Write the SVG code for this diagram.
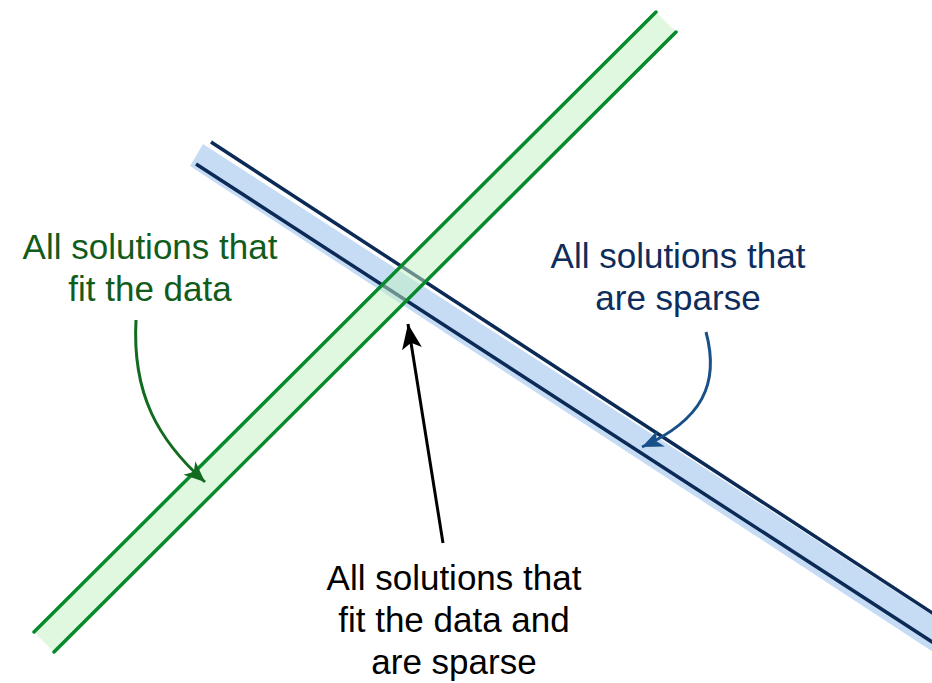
<svg xmlns="http://www.w3.org/2000/svg" width="932" height="683" viewBox="0 0 932 683">
  <style>
    .lbl { font-family: "Liberation Sans", Arial, Helvetica, sans-serif; font-size: 35px; text-anchor: middle; }
    .green-txt { fill: #115b1b; }
    .blue-txt { fill: #0e2d5c; }
    .black-txt { fill: #000000; }
    .blue-edge { stroke: #0c2a56; stroke-width: 3.5; fill: none; }
    .green-edge { stroke: #078a2c; stroke-width: 3.5; fill: none; stroke-linecap: round; }
    .conn { fill: none; }
  </style>
  <defs>
    <marker id="headGreen" markerUnits="userSpaceOnUse" markerWidth="26" markerHeight="22" viewBox="-22 -11 26 22" refX="0" refY="0" orient="auto">
      <path d="M0,0 L-21,-9 L-15,0 L-21,9 Z" fill="#126b1f"/>
    </marker>
    <marker id="headBlue" markerUnits="userSpaceOnUse" markerWidth="26" markerHeight="22" viewBox="-22 -11 26 22" refX="0" refY="0" orient="auto">
      <path d="M0,0 L-21,-9 L-15,0 L-21,9 Z" fill="#1a5089"/>
    </marker>
    <marker id="headBlack" markerUnits="userSpaceOnUse" markerWidth="30" markerHeight="24" viewBox="-26 -12 30 24" refX="0" refY="0" orient="auto">
      <path d="M0,0 L-25,-10 L-19,0 L-25,10 Z" fill="#000000"/>
    </marker>
  </defs>

  <rect x="0" y="0" width="932" height="683" fill="#ffffff"/>

  <!-- sparse band -->
  <g id="sparse-band">
    <polygon points="203,144 960,633 950,663 190,166" fill="#c6dcf5"/>
    <line class="blue-edge" x1="211" y1="142" x2="960" y2="631"/>
    <line class="blue-edge" x1="196" y1="164" x2="960" y2="660"/>
  </g>

  <!-- data-fit band -->
  <g id="data-band">
    <polygon points="656,12 676,32 54,652 34,632" fill="#c1f1c1" fill-opacity="0.5"/>
    <line class="green-edge" x1="656" y1="12" x2="34" y2="632"/>
    <line class="green-edge" x1="676" y1="32" x2="54" y2="652"/>
  </g>

  <!-- labels -->
  <g id="label-data">
    <text class="lbl green-txt" x="150" y="259">All solutions that</text>
    <text class="lbl green-txt" x="150" y="301">fit the data</text>
  </g>
  <g id="label-sparse">
    <text class="lbl blue-txt" x="678" y="268">All solutions that</text>
    <text class="lbl blue-txt" x="678" y="310">are sparse</text>
  </g>
  <g id="label-both">
    <text class="lbl black-txt" x="454" y="590">All solutions that</text>
    <text class="lbl black-txt" x="454" y="632">fit the data and</text>
    <text class="lbl black-txt" x="454" y="674">are sparse</text>
  </g>

  <!-- connectors -->
  <g id="connectors">
    <path class="conn" d="M136,320 C132,394 158,440 205,482" stroke="#126b1f" stroke-width="3" marker-end="url(#headGreen)"/>
    <path class="conn" d="M706,332 C720,384 702,420 642,447" stroke="#1a5089" stroke-width="3" marker-end="url(#headBlue)"/>
    <path class="conn" d="M443,543 L408,324" stroke="#000000" stroke-width="3" marker-end="url(#headBlack)"/>
  </g>
</svg>
